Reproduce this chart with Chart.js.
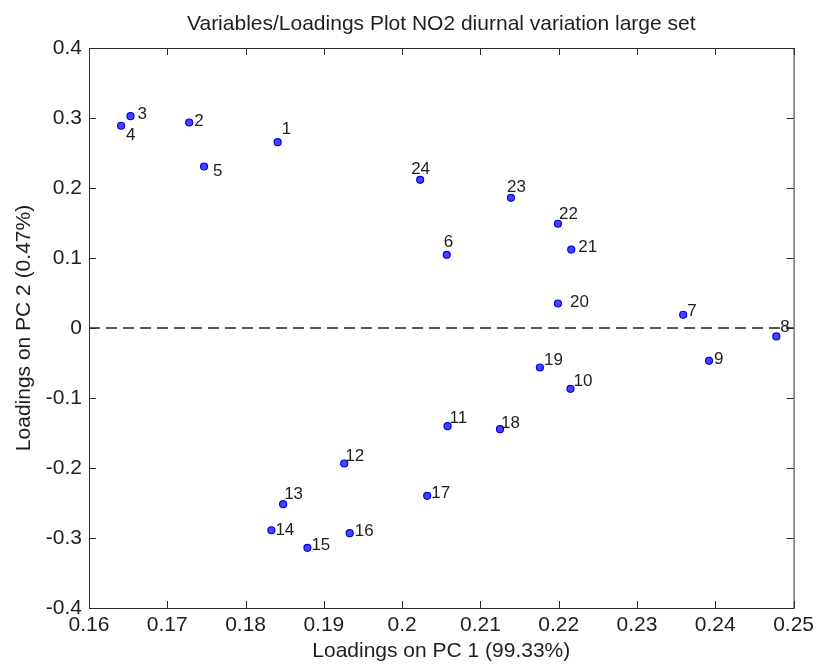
<!DOCTYPE html>
<html>
<head>
<meta charset="utf-8">
<script src="https://cdn.jsdelivr.net/npm/chart.js@4/dist/chart.umd.min.js"></script>
<style>
  html, body { margin: 0; padding: 0; background: #fff; }
  #wrap { width: 819px; height: 666px; }
</style>
</head>
<body>
<div id="wrap"><canvas id="chart" width="819" height="666"></canvas></div>
<script>
// loadings, variable number = hour label
const varLabels = ['1', '2', '3', '4', '5', '6', '7', '8', '9', '10', '11', '12',
                   '13', '14', '15', '16', '17', '18', '19', '20', '21', '22', '23', '24'];
const pc1 = [0.1841, 0.1728, 0.1653, 0.1641, 0.1747, 0.2057, 0.2359, 0.2478, 0.2392, 0.2215, 0.2058, 0.1926,
             0.1848, 0.1833, 0.1879, 0.1933, 0.2032, 0.2125, 0.2176, 0.2199, 0.2216, 0.2199, 0.2139, 0.2023];
const pc2 = [0.2654, 0.2936, 0.3026, 0.2889, 0.2307, 0.1046, 0.0189, -0.0121, -0.0469, -0.0869, -0.1403, -0.1936,
             -0.2517, -0.2889, -0.3140, -0.2931, -0.2397, -0.1446, -0.0564, 0.0350, 0.1121, 0.1489, 0.1860, 0.2117];
const xTicks = [0.16, 0.17, 0.18, 0.19, 0.2, 0.21, 0.22, 0.23, 0.24, 0.25];
const yTicks = [-0.4, -0.3, -0.2, -0.1, 0, 0.1, 0.2, 0.3, 0.4];
const plotTitle = 'Variables/Loadings Plot NO2 diurnal variation large set';

// text position of each label relative to its marker: [dx to left edge, dy to baseline]
const labelOffsets = {
  '1': [4, -8], '2': [5, 4], '3': [7, 3], '4': [5, 14], '5': [9, 9], '6': [-3, -8],
  '7': [4, 1], '8': [4, -4], '9': [5, 3], '10': [3, -3], '11': [2, -3], '12': [1, -3],
  '13': [1, -5], '14': [4, 5], '15': [4, 2], '16': [5, 3], '17': [4, 2], '18': [1, -1],
  '19': [4, -2], '20': [12, 3], '21': [7, 2], '22': [1, -5], '23': [-4, -6], '24': [-9, -6]
};

const points = pc1.map((x, i) => ({ x: x, y: pc2[i] }));
const FONT = "'Liberation Sans', Arial, sans-serif";
const TXT = '#1e1e1e';

const frame = {
  id: 'frame',
  beforeDatasetsDraw(chart) {
    const { ctx, chartArea: a, scales: { y } } = chart;
    ctx.save();
    // zero line
    ctx.strokeStyle = '#222';
    ctx.lineWidth = 1.6;
    ctx.setLineDash([11, 6]);
    const y0 = y.getPixelForValue(0);
    ctx.beginPath();
    ctx.moveTo(a.left, y0);
    ctx.lineTo(a.right, y0);
    ctx.stroke();
    ctx.restore();
  },
  afterDatasetsDraw(chart) {
    const { ctx, chartArea: a, scales: { x, y } } = chart;
    const len = 7;
    ctx.save();
    ctx.strokeStyle = '#2a2a2a';
    ctx.lineWidth = 1;
    ctx.strokeRect(a.left + 0.5, a.top + 0.5, a.right - a.left, a.bottom - a.top);
    ctx.beginPath();
    x.ticks.forEach((t, i) => {
      const px = Math.round(x.getPixelForTick(i)) + 0.5;
      ctx.moveTo(px, a.bottom); ctx.lineTo(px, a.bottom - len);
      ctx.moveTo(px, a.top); ctx.lineTo(px, a.top + len);
    });
    y.ticks.forEach((t, i) => {
      const py = Math.round(y.getPixelForTick(i)) + 0.5;
      ctx.moveTo(a.left, py); ctx.lineTo(a.left + len, py);
      ctx.moveTo(a.right, py); ctx.lineTo(a.right - len, py);
    });
    ctx.stroke();

    // title, centred over the plot box like MATLAB does
    ctx.fillStyle = TXT;
    ctx.font = "21px " + FONT;
    ctx.textAlign = 'center';
    ctx.textBaseline = 'middle';
    ctx.fillText(plotTitle, (a.left + a.right) / 2, 24);

    // point labels
    ctx.font = "17px " + FONT;
    ctx.textAlign = 'left';
    ctx.textBaseline = 'alphabetic';
    chart.getDatasetMeta(0).data.forEach((pt, i) => {
      const lab = varLabels[i];
      const off = labelOffsets[lab] || [3, -3];
      ctx.fillText(lab, pt.x + off[0], pt.y + off[1]);
    });
    ctx.restore();
  }
};

new Chart(document.getElementById('chart'), {
  type: 'scatter',
  data: {
    datasets: [{
      data: points,
      pointRadius: 3.5,
      pointBackgroundColor: '#4545ff',
      pointBorderColor: '#0000e6',
      pointBorderWidth: 1.2
    }]
  },
  options: {
    responsive: false,
    animation: false,
    layout: { padding: { top: 48, right: 22, bottom: 0, left: 0 } },
    plugins: {
      legend: { display: false },
      tooltip: { enabled: false },
      title: { display: false }
    },
    scales: {
      x: {
        type: 'linear',
        min: 0.16,
        max: 0.25,
        afterBuildTicks: s => { s.ticks = xTicks.map(v => ({ value: v })); },
        afterFit: s => { s.height = 58; },
        grid: { display: false, drawTicks: false },
        border: { display: false },
        ticks: {
          color: TXT,
          padding: 5,
          maxRotation: 0,
          font: { family: FONT, size: 21 },
          callback: v => String(v)
        },
        title: {
          display: true,
          text: 'Loadings on PC 1 (99.33%)',
          color: TXT,
          font: { family: FONT, size: 21, lineHeight: 1.2 },
          padding: { top: 0, bottom: 2.5 }
        }
      },
      y: {
        type: 'linear',
        min: -0.4,
        max: 0.4,
        afterBuildTicks: s => { s.ticks = yTicks.map(v => ({ value: v })); },
        afterFit: s => { s.width = 89; },
        grid: { display: false, drawTicks: false },
        border: { display: false },
        ticks: {
          color: TXT,
          padding: 7,
          font: { family: FONT, size: 21 },
          callback: v => String(v)
        },
        title: {
          display: true,
          text: 'Loadings on PC 2 (0.47%)',
          color: TXT,
          font: { family: FONT, size: 21, lineHeight: 1.2 },
          padding: { top: 11.4, bottom: 0 }
        }
      }
    }
  },
  plugins: [frame]
});
</script>
</body>
</html>
